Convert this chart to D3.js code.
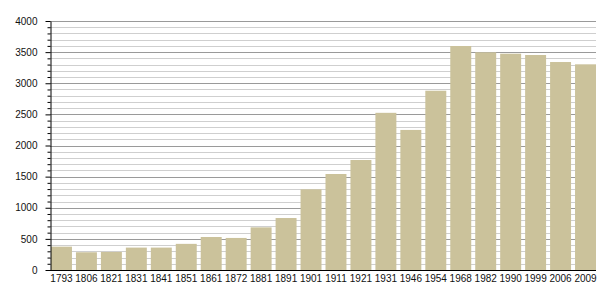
<!DOCTYPE html>
<html>
<head>
<meta charset="utf-8">
<script src="https://cdn.jsdelivr.net/npm/d3@7"></script>
<style>
  body { margin: 0; background: #fff; }
</style>
</head>
<body>
<svg class="popChart" width="605" height="300"></svg>
<script>
// population per census year
const years = ["1793", "1806", "1821", "1831", "1841", "1851", "1861", "1872", "1881", "1891",
    "1901", "1911", "1921", "1931", "1946", "1954", "1968", "1982", "1990", "1999", "2006", "2009"];
const population = [375, 285, 290, 360, 360, 420, 530, 515, 685, 835,
    1296, 1542, 1767, 2525, 2250, 2880, 3598, 3497, 3475, 3454, 3341, 3304];
const majorTicks = [0, 500, 1000, 1500, 2000, 2500, 3000, 3500, 4000];

const svg = d3.select("svg.popChart");

const plotLeft = 50, plotRight = 596, plotTop = 21, plotBottom = 270;

const x = d3.scaleBand()
    .domain(years)
    .range([plotLeft + 1, plotRight])
    .paddingInner(0.16)
    .paddingOuter(0);

const y = d3.scaleLinear()
    .domain([0, 4000])
    .range([plotBottom, plotTop]);

// minor grid every 100
const minor = d3.range(100, 4001, 100).filter(v => v % 500 !== 0);

svg.append("g")
    .attr("class", "minorGrid")
    .selectAll("line")
    .data(minor)
    .join("line")
    .attr("x1", plotLeft)
    .attr("x2", plotRight)
    .attr("y1", d => Math.round(y(d)) + 0.5)
    .attr("y2", d => Math.round(y(d)) + 0.5)
    .attr("stroke", "#cfcfcf")
    .attr("stroke-width", 1);

svg.append("g")
    .attr("class", "majorGrid")
    .selectAll("line")
    .data(majorTicks.filter(v => v > 0))
    .join("line")
    .attr("x1", plotLeft)
    .attr("x2", plotRight)
    .attr("y1", d => Math.round(y(d)) + 0.5)
    .attr("y2", d => Math.round(y(d)) + 0.5)
    .attr("stroke", "#9a9a9a")
    .attr("stroke-width", 1);

// bars
svg.append("g")
    .attr("class", "bars")
    .selectAll("rect")
    .data(years)
    .join("rect")
    .attr("x", d => x(d))
    .attr("width", x.bandwidth())
    .attr("y", (d, i) => y(population[i]))
    .attr("height", (d, i) => plotBottom - y(population[i]))
    .attr("fill", "#cbc29b");

// y axis with minor ticks
const yMinor = svg.append("g")
    .attr("transform", "translate(" + (plotLeft + 0.5) + ",0)")
    .call(d3.axisLeft(y).tickValues(minor).tickSize(3).tickFormat(""));
yMinor.select(".domain").remove();
yMinor.selectAll("line").attr("stroke", "#000");

const yAxis = svg.append("g")
    .attr("transform", "translate(" + (plotLeft + 0.5) + ",0)")
    .call(d3.axisLeft(y)
        .tickValues(majorTicks)
        .tickFormat(d3.format("d"))
        .tickSize(5)
        .tickPadding(8)
        .tickSizeOuter(0));
yAxis.select(".domain").attr("stroke", "#000");
yAxis.selectAll("line").attr("stroke", "#000");
yAxis.selectAll("text")
    .style("font-family", "'Liberation Sans', Arial, sans-serif")
    .style("font-size", "10px")
    .attr("fill", "#111");

// x axis
const xAxis = svg.append("g")
    .attr("transform", "translate(0," + (plotBottom + 0.5) + ")")
    .call(d3.axisBottom(x).tickSize(0).tickPadding(4.5));
xAxis.select(".domain").attr("d", "M" + plotLeft + ",0H" + plotRight).attr("stroke", "#000");
xAxis.selectAll("text")
    .style("font-family", "'Liberation Sans', Arial, sans-serif")
    .style("font-size", "10px")
    .attr("fill", "#111");
</script>
</body>
</html>
